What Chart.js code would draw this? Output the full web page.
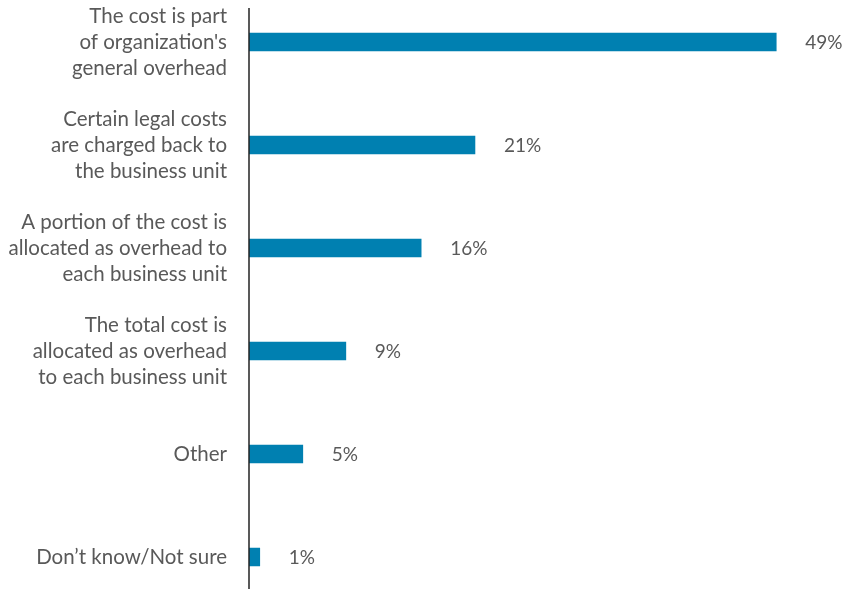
<!DOCTYPE html>
<html>
<head>
<meta charset="utf-8">
<script src="https://cdn.jsdelivr.net/npm/chart.js@4"></script>
<style>
  html, body { margin: 0; padding: 0; background: #fff; }
  #wrap { position: relative; width: 843px; height: 589px; overflow: hidden; }
  #myChart { position: absolute; left: 0; top: -20px; }
</style>
</head>
<body>
<div id="wrap"><canvas id="myChart" width="843" height="660"></canvas></div>
<script>
const labels = [
    ['The cost is part', "of organization's", 'general overhead'],
    ['Certain legal costs', 'are charged back to', 'the business unit'],
    ['A portion of the cost is', 'allocated as overhead to', 'each business unit'],
    ['The total cost is', 'allocated as overhead', 'to each business unit'],
    'Other',
    'Don\u2019t know/Not sure'
];
const values = [49, 21, 16, 9, 5, 1];

const textColor = '#595959';
const fontFamily = 'Lato, "Open Sans", sans-serif';

// percentage text to the right of each bar
const valueLabels = {
    id: 'valueLabels',
    afterDatasetsDraw(chart) {
        const ctx = chart.ctx;
        const meta = chart.getDatasetMeta(0);
        ctx.save();
        ctx.fillStyle = textColor;
        ctx.font = '19px ' + fontFamily;
        ctx.textAlign = 'left';
        ctx.textBaseline = 'middle';
        meta.data.forEach((bar, i) => {
            ctx.fillText(values[i] + '%', bar.x + 29, bar.y + 1);
        });
        ctx.restore();
    }
};

// vertical axis line at zero
const zeroLine = {
    id: 'zeroLine',
    afterDraw(chart) {
        const ctx = chart.ctx;
        const x = chart.scales.x.getPixelForValue(0);
        ctx.save();
        ctx.strokeStyle = '#222';
        ctx.lineWidth = 1.5;
        ctx.beginPath();
        ctx.moveTo(x, 28);
        ctx.lineTo(x, chart.height);
        ctx.stroke();
        ctx.restore();
    }
};

const data = {
    labels: labels,
    datasets: [{
        data: values,
        backgroundColor: '#0080B1',
        barThickness: 18,
    }]
};

const config = {
    type: 'bar',
    data: data,
    options: {
        indexAxis: 'y',
        responsive: false,
        animation: false,
        layout: { padding: { top: 10.5, bottom: 31.5, right: 56, left: 0 } },
        plugins: {
            legend: { display: false },
            tooltip: { enabled: false }
        },
        scales: {
            x: {
                display: false,
                min: 0,
                max: 50
            },
            y: {
                grid: { display: false, drawTicks: false },
                border: { display: false },
                afterFit(scale) {
                    scale.width = 249;
                    scale.paddingTop = 0;
                    scale.paddingBottom = 0;
                },
                ticks: {
                    color: textColor,
                    padding: 22,
                    font: { family: fontFamily, size: 20.5, lineHeight: 1.27 }
                }
            }
        }
    },
    plugins: [valueLabels, zeroLine]
};

const myChart = new Chart(document.getElementById('myChart'), config);
</script>
</body>
</html>
